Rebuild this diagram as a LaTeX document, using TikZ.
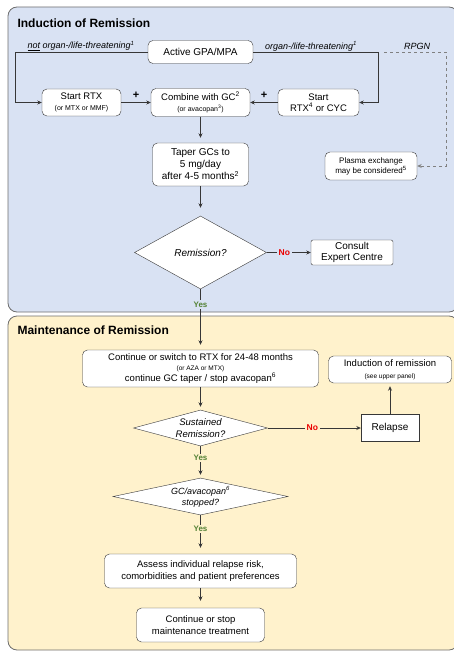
\documentclass[tikz,border=0pt]{standalone}
\usepackage{fontspec}
\setmainfont{Liberation Sans}
\usepackage{tikz}
\usetikzlibrary{shapes.geometric, arrows.meta}
\definecolor{indblue}{RGB}{217,226,243}
\definecolor{mntyellow}{RGB}{255,242,204}
\definecolor{yesgreen}{RGB}{84,130,53}
\definecolor{nored}{RGB}{235,0,0}
\definecolor{linegray}{RGB}{55,55,55}
\definecolor{panelgray}{RGB}{110,110,110}
\newcommand{\sz}[2]{\fontsize{#1}{#2}\selectfont}

\begin{document}
\begin{tikzpicture}[x=1pt, y=-1pt, >={Stealth[length=4.5pt,width=4pt]},
	box/.style={rectangle, draw=linegray, fill=white, rounded corners=5pt, align=center, inner sep=1pt, font=\sz{9.5}{11.5}},
	decision/.style={diamond, draw=linegray, fill=white, inner sep=0pt, align=center, font=\itshape\sz{9.5}{11.5}},
	panel/.style={draw=panelgray, rounded corners=9pt, line width=0.8pt},
	branch/.style={font=\itshape\sz{9}{10}, inner sep=1pt},
	yeslbl/.style={text=yesgreen, font=\bfseries\sz{8}{9}, inner sep=1.5pt},
	nolbl/.style={text=nored, font=\bfseries\sz{8.5}{10}, inner sep=2pt},
	conn/.style={draw=linegray, line width=0.7pt}]
		\useasboundingbox (0,0) rectangle (454,652);
		% panels
		\draw[panel, fill=indblue] (8,7) rectangle (458,312);
		\draw[panel, fill=mntyellow] (8,316) rectangle (458,650);
		\node[anchor=west, font=\bfseries\sz{12}{14}] (indtitle) at (14,23) {Induction of Remission};
		\node[anchor=west, font=\bfseries\sz{12}{14}] (mnttitle) at (14,330) {Maintenance of Remission};

		% induction
		\node[box, minimum width=105pt, minimum height=23pt, font=\sz{10}{12}] (active) at (200.5,52) {Active GPA/MPA};
		\node[box, minimum width=79pt, minimum height=27pt] (startrtx) at (81.5,102.5) {Start RTX\\{\sz{7}{8}(or MTX or MMF)}};
		\node[box, minimum width=99pt, minimum height=28pt] (combine) at (200.5,102.5) {Combine with GC\textsuperscript{2}\\{\sz{7}{8}(or avacopan\textsuperscript{3})}};
		\node[box, minimum width=81pt, minimum height=27pt] (startcyc) at (318.5,102.5) {Start\\RTX\textsuperscript{4} or CYC};
		\node[box, minimum width=92pt, minimum height=28pt, font=\sz{8}{10}] (plasma) at (371,166) {Plasma exchange\\may be considered\textsuperscript{5}};
		\node[box, minimum width=96pt, minimum height=43pt, font=\sz{10}{12}] (taper) at (200.5,164.5) {Taper GCs to\\5 mg/day\\after 4-5 months\textsuperscript{2}};
		\node[decision, minimum width=132pt, minimum height=73pt, aspect=1.8, font=\itshape\sz{10}{12}] (remission) at (200.5,252.5) {Remission?};
		\node[box, rounded corners=2pt, inner sep=0.5pt, minimum width=82pt, minimum height=25pt, font=\sz{10}{11.5}] (consult) at (352,252.5) {Consult\\Expert Centre};

		\node[branch] (notlbl) at (81,46) {\underline{not} organ-/life-threatening\textsuperscript{1}};
		\node[branch] (lifelbl) at (311,46) {organ-/life-threatening\textsuperscript{1}};
		\node[branch] (rpgnlbl) at (417,46) {RPGN};
		\coordinate (leftbend) at (15,52);
		\coordinate (rightbend) at (378,52);
		\coordinate (rpgnstart) at (384,52);
		\coordinate (rpgnbend) at (446,52);

		\draw[conn, ->] (active.west) -- (leftbend) |- (startrtx.west);
		\draw[conn, ->] (active.east) -- (rightbend) |- (startcyc.east);
		\draw[conn, dashed, draw=gray, ->] (rpgnstart) -- (rpgnbend) |- (plasma.east);
		\draw[conn, ->] (startrtx.east) -- (combine.west) node[midway, above, font=\bfseries\sz{11}{12}] {+};
		\draw[conn, ->] (startcyc.west) -- (combine.east) node[midway, above, font=\bfseries\sz{11}{12}] {+};
		\draw[conn, ->, shorten >=5pt] (combine.south) -- (taper.north);
		\draw[conn, ->, shorten >=8pt] (taper.south) -- (remission.north);
		\draw[conn, ->] (remission.east) -- (consult.west) node[nolbl, pos=0.4, fill=indblue] {No};

		% maintenance
		\node[box, minimum width=236pt, minimum height=37pt] (continue) at (200.5,368.5) {Continue or switch to RTX for 24-48 months\\[-1.5pt]{\sz{6.5}{8}(or AZA or MTX)}\\[-1pt]continue GC taper / stop avacopan\textsuperscript{6}};
		\node[box, minimum width=123pt, minimum height=27pt] (indrem) at (390,369.5) {Induction of remission\\{\sz{6.5}{8}(see upper panel)}};
		\node[decision, minimum width=134pt, minimum height=36pt, aspect=3.7] (sustained) at (200.5,428) {Sustained\\Remission?};
		\node[box, rounded corners=0pt, minimum width=58pt, minimum height=27pt, font=\sz{10}{12}] (relapse) at (390,428) {Relapse};
		\node[decision, minimum width=175pt, minimum height=37pt, aspect=4.7, font=\itshape\sz{9}{11}] (gcstop) at (200.5,496.5) {GC/avacopan\textsuperscript{6}\\stopped?};
		\node[box, minimum width=192pt, minimum height=34pt] (assess) at (200.5,571) {Assess individual relapse risk,\\comorbidities and patient preferences};
		\node[box, minimum width=128pt, minimum height=34pt] (contstop) at (200.5,625) {Continue or stop\\maintenance treatment};

		\draw[conn, ->, shorten >=5pt] (remission.south) -- (continue.north) node[yeslbl, pos=0.25, fill=indblue] {Yes};
		\draw[conn, ->, shorten >=3pt] (continue.south) -- (sustained.north);
		\draw[conn, ->] (sustained.east) -- (relapse.west) node[nolbl, pos=0.48, fill=mntyellow] {No};
		\draw[conn, ->, shorten >=3pt] (relapse.north) -- (indrem.south);
		\draw[conn, ->, shorten >=3pt] (sustained.south) -- (gcstop.north) node[yeslbl, pos=0.375, fill=mntyellow] {Yes};
		\draw[conn, ->, shorten >=6pt] (gcstop.south) -- (assess.north) node[yeslbl, pos=0.36, fill=mntyellow] {Yes};
		\draw[conn, ->, shorten >=7pt] (assess.south) -- (contstop.north);
\end{tikzpicture}
\end{document}
